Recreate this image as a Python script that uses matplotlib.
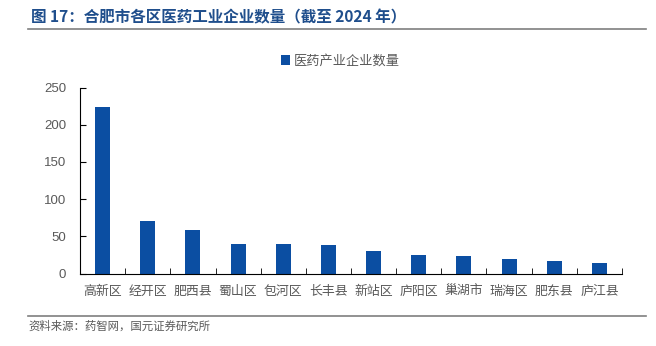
import matplotlib
matplotlib.use("Agg")
import matplotlib.pyplot as plt
from matplotlib.lines import Line2D

plt.rcParams['font.family'] = ['Noto Sans CJK SC', 'DejaVu Sans']

districts = ["高新区", "经开区", "肥西县", "蜀山区", "包河区", "长丰县",
             "新站区", "庐阳区", "巢湖市", "瑞海区", "肥东县", "庐江县"]
counts = [224, 70, 58, 40, 39, 38, 30, 25, 23, 19, 17, 14]
yticks = [0, 50, 100, 150, 200, 250]

BLUE = "#0b4ea2"
GRAY = "#595959"

fig = plt.figure(figsize=(6.56, 3.46), dpi=100)
ax = fig.add_axes([80 / 656, (346 - 273.5) / 346, 542 / 656, 186 / 346])

x = range(len(districts))
ax.bar(x, counts, width=0.33, color=BLUE, label="医药产业企业数量")
ax.set_xlim(-0.5, len(districts) - 0.5)
ax.set_ylim(0, 250)
ax.set_yticks(yticks)
ax.set_xticks(list(x))
ax.set_xticklabels(districts, fontsize=9.3, color=GRAY)
ax.set_xticks([i + 0.5 for i in range(len(districts))], minor=True)
ax.tick_params(axis='x', which='major', length=0, pad=8)
ax.tick_params(axis='x', which='minor', length=4, direction='in', color='black')
ax.tick_params(axis='y', length=4, direction='in', labelsize=9.5, labelcolor=GRAY, pad=10)
for lbl in ax.get_yticklabels():
    lbl.set_family(['Liberation Sans', 'DejaVu Sans'])
for s in ['top', 'right']:
    ax.spines[s].set_visible(False)
ax.spines['left'].set_color('black')
ax.spines['bottom'].set_color('black')

leg = ax.legend(loc='upper center', bbox_to_anchor=(0.48, 1.24), frameon=False,
                fontsize=9.5, handlelength=0.7, handleheight=0.7, handletextpad=0.3)
for t in leg.get_texts():
    t.set_color(GRAY)

fig.text(31 / 656, 1 - 17 / 346, "图 17：合肥市各区医药工业企业数量（截至 2024 年）",
         fontsize=11.2, fontweight='bold', color="#1f4e8c", va='center', ha='left')
fig.add_artist(Line2D([28 / 656, 646 / 656], [1 - 29 / 346, 1 - 29 / 346],
                      color="#7f7f7f", lw=1.2))
fig.add_artist(Line2D([28 / 656, 646 / 656], [1 - 316 / 346, 1 - 316 / 346],
                      color="#7f7f7f", lw=1.2))
fig.text(28 / 656, 1 - 326 / 346, "资料来源：药智网，国元证券研究所",
         fontsize=8.2, color=GRAY, va='center', ha='left')

fig.savefig("out.png", dpi=100)
